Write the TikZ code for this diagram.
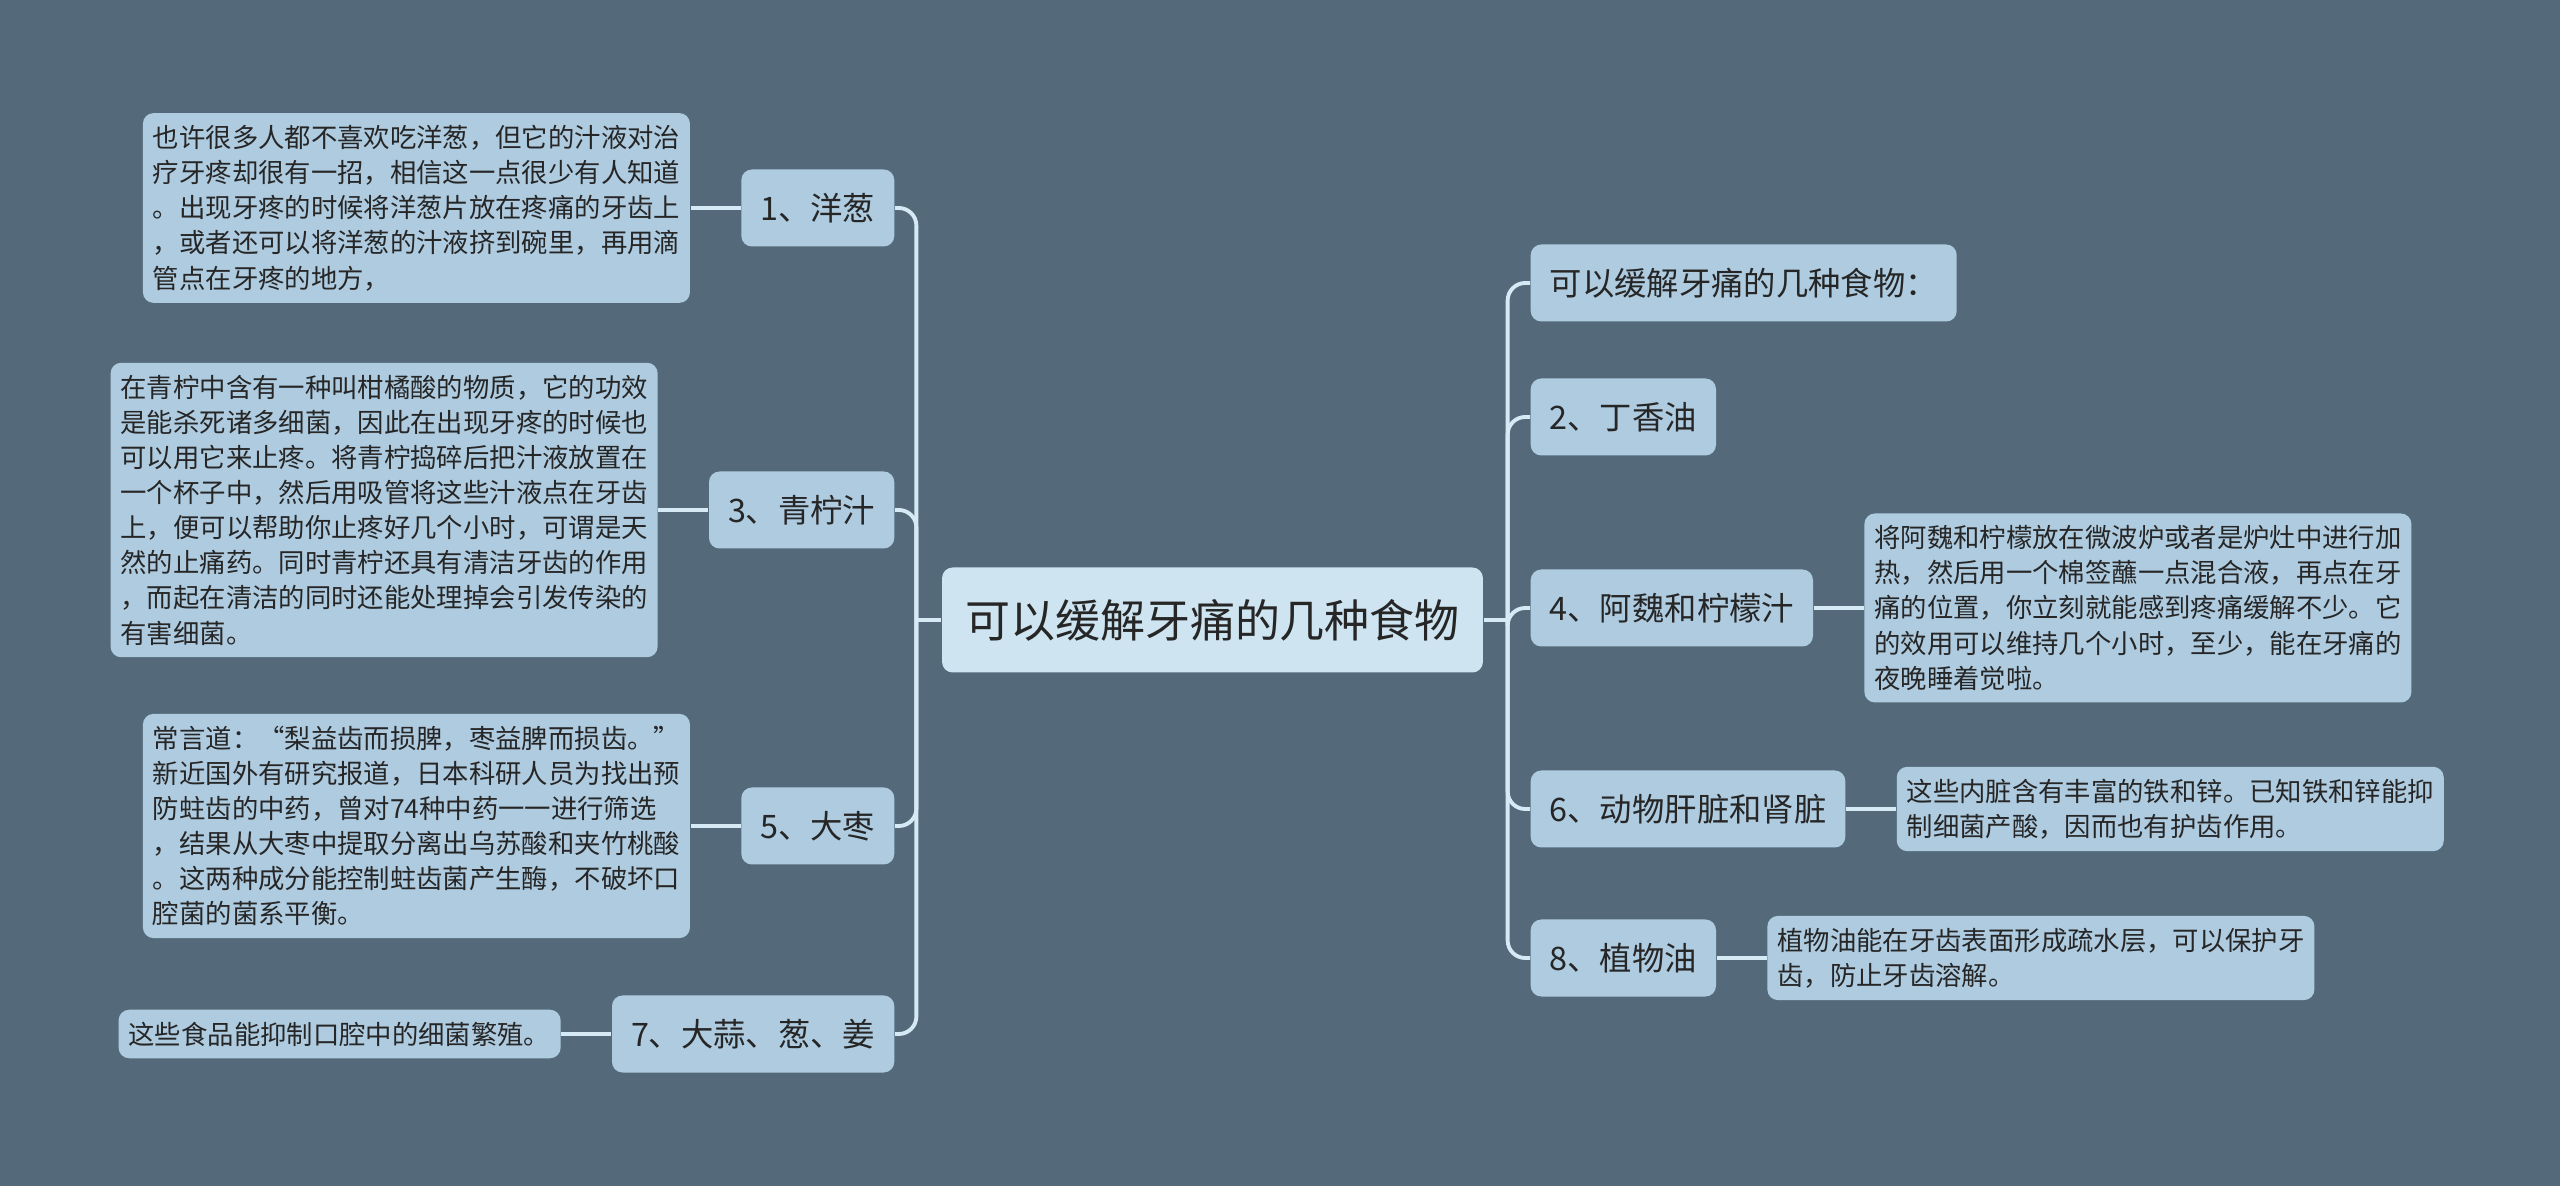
\documentclass[tikz,border=0pt]{standalone}
\usepackage{fontspec}
\setmainfont{Noto Sans CJK SC}
\usepackage{tikz}
\usetikzlibrary{positioning, calc}
\definecolor{mapbg}{RGB}{84,106,122}
\definecolor{rootfill}{RGB}{206,228,241}
\definecolor{topicfill}{RGB}{174,203,224}
\definecolor{linkline}{RGB}{214,234,245}
\definecolor{inktext}{RGB}{38,38,38}

\begin{document}
\begin{tikzpicture}[
    node distance=0.5cm,
    rootbox/.style={rectangle, rounded corners=3pt, fill=rootfill, text=inktext, inner xsep=0.23cm, minimum height=1.05cm, font=\fontsize{12.8}{15}\selectfont},
    topicbox/.style={rectangle, rounded corners=3pt, fill=topicfill, text=inktext, inner xsep=0.19cm, minimum height=0.77cm, font=\fontsize{9.2}{11}\selectfont},
    notebox/.style={rectangle, rounded corners=3pt, fill=topicfill, text=inktext, inner xsep=0.1cm, inner ysep=0.12cm, text width=5.27cm, align=left, font=\fontsize{7.5}{10}\selectfont},
    branch/.style={draw=linkline, line width=1.1pt, rounded corners=5pt}
]

% Background
\fill[mapbg] (0,0) rectangle (25.6,11.86);

% Root
\node[rootbox] (root) at (12.125,5.66) {可以缓解牙痛的几种食物};

% Left topics
\node[topicbox, anchor=east] (onion) at (8.95,9.78) {1、洋葱};
\node[topicbox, anchor=east] (lime) at (8.95,6.76) {3、青柠汁};
\node[topicbox, anchor=east] (jujube) at (8.95,3.60) {5、大枣};
\node[topicbox, anchor=east] (garlic) at (8.95,1.52) {7、大蒜、葱、姜};

% Left notes
\node[notebox, left=of onion] (onionNote) {也许很多人都不喜欢吃洋葱，但它的汁液对治\\疗牙疼却很有一招，相信这一点很少有人知道\\。出现牙疼的时候将洋葱片放在疼痛的牙齿上\\，或者还可以将洋葱的汁液挤到碗里，再用滴\\管点在牙疼的地方，};
\node[notebox, left=of lime] (limeNote) {在青柠中含有一种叫柑橘酸的物质，它的功效\\是能杀死诸多细菌，因此在出现牙疼的时候也\\可以用它来止疼。将青柠捣碎后把汁液放置在\\一个杯子中，然后用吸管将这些汁液点在牙齿\\上，便可以帮助你止疼好几个小时，可谓是天\\然的止痛药。同时青柠还具有清洁牙齿的作用\\，而起在清洁的同时还能处理掉会引发传染的\\有害细菌。};
\node[notebox, left=of jujube] (jujubeNote) {常言道：“梨益齿而损脾，枣益脾而损齿。”\\新近国外有研究报道，日本科研人员为找出预\\防蛀齿的中药，曾对74种中药一一进行筛选\\，结果从大枣中提取分离出乌苏酸和夹竹桃酸\\。这两种成分能控制蛀齿菌产生酶，不破坏口\\腔菌的菌系平衡。};
\node[notebox, text width=4.22cm, left=of garlic] (garlicNote) {这些食品能抑制口腔中的细菌繁殖。};

% Right topics
\node[topicbox, anchor=west] (intro) at (15.30,9.03) {可以缓解牙痛的几种食物：};
\node[topicbox, anchor=west] (clove) at (15.30,7.69) {2、丁香油};
\node[topicbox, anchor=west] (asafoetida) at (15.30,5.78) {4、阿魏和柠檬汁};
\node[topicbox, anchor=west] (liver) at (15.30,3.77) {6、动物肝脏和肾脏};
\node[topicbox, anchor=west] (oil) at (15.30,2.28) {8、植物油};

% Right notes
\node[notebox, right=of asafoetida] (asafoetidaNote) {将阿魏和柠檬放在微波炉或者是炉灶中进行加\\热，然后用一个棉签蘸一点混合液，再点在牙\\痛的位置，你立刻就能感到疼痛缓解不少。它\\的效用可以维持几个小时，至少，能在牙痛的\\夜晚睡着觉啦。};
\node[notebox, right=of liver] (liverNote) {这些内脏含有丰富的铁和锌。已知铁和锌能抑\\制细菌产酸，因而也有护齿作用。};
\node[notebox, right=of oil] (oilNote) {植物油能在牙齿表面形成疏水层，可以保护牙\\齿，防止牙齿溶解。};

% Trunks
\coordinate (ljoin) at ($(root.west)+(-0.25,0)$);
\coordinate (rjoin) at ($(root.east)+(0.24,0)$);
\draw[branch] (root.west) -- (ljoin);
\draw[branch] (root.east) -- (rjoin);
\foreach \t in {onion,lime,jujube,garlic}
  \draw[branch] (ljoin) |- (\t.east);
\foreach \t in {intro,clove,asafoetida,liver,oil}
  \draw[branch] (rjoin) |- (\t.west);

% Topic to note
\draw[branch] (onion.west) -- (onionNote.east);
\draw[branch] (lime.west) -- (limeNote.east);
\draw[branch] (jujube.west) -- (jujubeNote.east);
\draw[branch] (garlic.west) -- (garlicNote.east);
\draw[branch] (asafoetida.east) -- (asafoetidaNote.west);
\draw[branch] (liver.east) -- (liverNote.west);
\draw[branch] (oil.east) -- (oilNote.west);

\end{tikzpicture}
\end{document}
